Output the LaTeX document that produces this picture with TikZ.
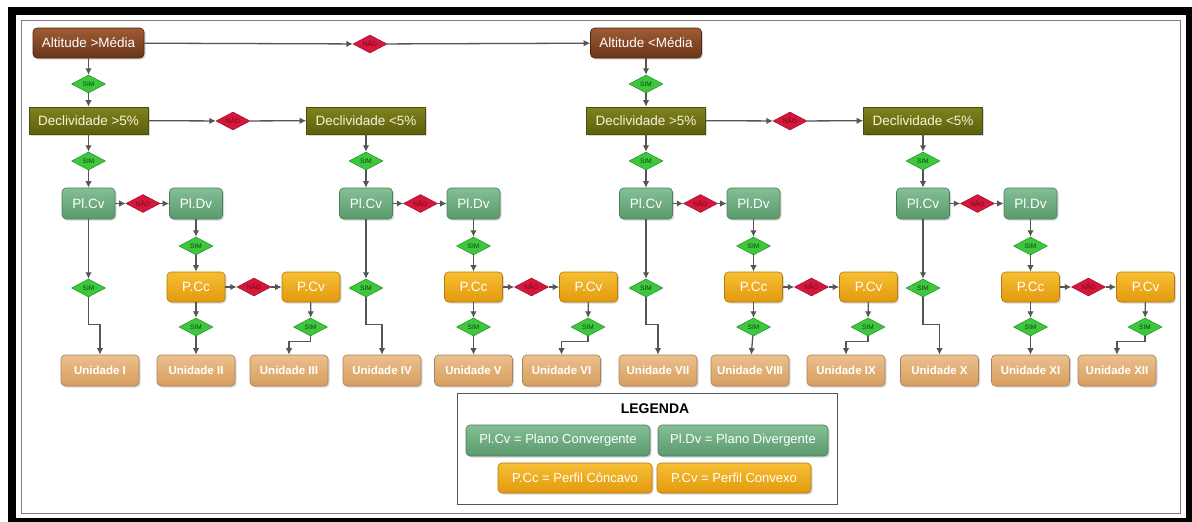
\documentclass[tikz,border=0pt]{standalone}
\usepackage{fontspec}
\setmainfont{Liberation Sans}
\usetikzlibrary{shapes.geometric,arrows.meta,shadows}
\definecolor{brownT}{HTML}{9E5C33}
\definecolor{brownB}{HTML}{6A3418}
\definecolor{brownD}{HTML}{4E2610}
\definecolor{oliveT}{HTML}{80821C}
\definecolor{oliveB}{HTML}{5C600E}
\definecolor{oliveD}{HTML}{4A4C0A}
\definecolor{greenT}{HTML}{84BE95}
\definecolor{greenB}{HTML}{5A9A6C}
\definecolor{greenD}{HTML}{4A7D5A}
\definecolor{orangeT}{HTML}{F7BE34}
\definecolor{orangeB}{HTML}{E29A0E}
\definecolor{orangeD}{HTML}{B37A0A}
\definecolor{tanT}{HTML}{EBC08C}
\definecolor{tanB}{HTML}{D69E5E}
\definecolor{tanD}{HTML}{A88060}
\definecolor{simF}{HTML}{3DC73D}
\definecolor{simD}{HTML}{239023}
\definecolor{simT}{HTML}{10400F}
\definecolor{naoF}{HTML}{D5173D}
\definecolor{naoD}{HTML}{9A0E2A}
\definecolor{naoT}{HTML}{6A0A18}
\definecolor{lineC}{HTML}{555555}
\definecolor{creamT}{HTML}{F5F5DC}
\tikzset{
  base/.style={draw, line width=0.6pt, inner sep=0pt, align=center,
    drop shadow={shadow xshift=1.5pt, shadow yshift=-1.5pt, opacity=0.3}},
  altbox/.style={base, rounded corners=4pt, top color=brownT, bottom color=brownB, draw=brownD,
    minimum width=111pt, minimum height=30pt, text=white, font=\fontsize{13.5}{15}\selectfont},
  decbox/.style={base, top color=oliveT, bottom color=oliveB, draw=oliveD,
    minimum width=119pt, minimum height=27pt, text=creamT, font=\fontsize{13.5}{15}\selectfont},
  plbox/.style={base, rounded corners=4pt, top color=greenT, bottom color=greenB, draw=greenD,
    minimum width=53pt, minimum height=31pt, text=white, font=\fontsize{13.5}{15}\selectfont},
  pfbox/.style={base, rounded corners=4pt, top color=orangeT, bottom color=orangeB, draw=orangeD,
    minimum width=58pt, minimum height=30pt, text=white, font=\fontsize{13.5}{15}\selectfont},
  unbox/.style={base, rounded corners=4pt, top color=tanT, bottom color=tanB, draw=tanD,
    minimum width=78pt, minimum height=31pt, text=white, font=\fontsize{11.5}{13}\selectfont\bfseries},
  diam/.style={shape=diamond, aspect=2, inner sep=0pt, minimum width=34pt, minimum height=18pt,
    line width=0.5pt, font=\fontsize{6.5}{6.5}\selectfont},
  sim/.style={diam, fill=simF, draw=simD, text=simT},
  nao/.style={diam, fill=naoF, draw=naoD, text=naoT},
  arr/.style={draw=lineC, line width=1.3pt, -{Latex[length=6.5pt,width=6.5pt]}},
  legtitle/.style={font=\fontsize{14}{16}\selectfont\bfseries, text=black},
}
\begin{document}
\begin{tikzpicture}[x=1pt,y=-1pt]
\useasboundingbox (0,0) rectangle (1192,522);
% frame
\fill[black] (8,7) rectangle (1192,522);
\fill[white] (16,15) rectangle (1186,518);
\draw[gray, line width=1pt] (21,20) rectangle (1180,513);

% top level
\node[altbox] (alt1) at (88.5,43) {Altitude >Média};
\node[altbox] (alt2) at (646,43) {Altitude <Média};
\node[nao] (ntop) at (370,44) {NÃO};
\node[sim] (s01) at (88.5,84) {SIM};
\node[sim] (s03) at (646,84) {SIM};
\node[decbox] (dec1) at (88.5,120.5) {Declividade >5\%};
\node[decbox] (dec2) at (366,120.5) {Declividade <5\%};
\node[decbox] (dec3) at (646,120.5) {Declividade >5\%};
\node[decbox] (dec4) at (923,120.5) {Declividade <5\%};
\node[nao] (nd12) at (233,121) {NÃO};
\node[nao] (nd34) at (790,121) {NÃO};

\draw[arr] (alt1) -- (ntop);
\draw[arr] (ntop) -- (alt2);
\draw[arr] (alt1) -- (s01);
\draw[arr] (s01) -- (dec1);
\draw[arr] (alt2) -- (s03);
\draw[arr] (s03) -- (dec3);
\draw[arr] (dec1) -- (nd12);
\draw[arr] (nd12) -- (dec2);
\draw[arr] (dec3) -- (nd34);
\draw[arr] (nd34) -- (dec4);

\foreach \g/\D/\ua/\ub/\uc/\ra/\rb/\rc in {
  1/88.5/100/196/289/I/II/III,
  2/366/382/473.5/561.5/IV/V/VI,
  3/646/658/750/846/VII/VIII/IX,
  4/923/939.5/1030.5/1117/X/XI/XII}{
  \node[sim] (sa\g) at (\D,161) {SIM};
  \node[plbox] (cv\g) at (\D,203.5) {Pl.Cv};
  \node[nao] (na\g) at ({\D+54.5},203.5) {NÃO};
  \node[plbox] (dv\g) at ({\D+107.5},203.5) {Pl.Dv};
  \node[sim] (sb\g) at ({\D+107.5},246) {SIM};
  \node[pfbox] (cc\g) at ({\D+107.5},287) {P.Cc};
  \node[nao] (nb\g) at ({\D+165.5},287) {NÃO};
  \node[pfbox] (pv\g) at ({\D+222.5},287) {P.Cv};
  \node[sim] (sc\g) at (\D,288) {SIM};
  \node[sim] (sd\g) at ({\D+107.5},327) {SIM};
  \node[sim] (se\g) at ({\D+222},327) {SIM};
  \node[unbox] (ua\g) at (\ua,370.5) {Unidade \ra};
  \node[unbox] (ub\g) at (\ub,370.5) {Unidade \rb};
  \node[unbox] (uc\g) at (\uc,370.5) {Unidade \rc};
  \draw[arr] (dec\g) -- (sa\g);
  \draw[arr] (sa\g) -- (cv\g);
  \draw[arr] (cv\g) -- (na\g);
  \draw[arr] (na\g) -- (dv\g);
  \draw[arr] (dv\g) -- (sb\g);
  \draw[arr] (sb\g) -- (cc\g);
  \draw[arr] (cc\g) -- (nb\g);
  \draw[arr] (nb\g) -- (pv\g);
  \draw[arr] (cv\g) -- (sc\g);
  \draw[arr] (sc\g.south) -- ++(0,27) -| (ua\g.north);
  \draw[arr] (cc\g) -- (sd\g);
  \draw[arr] (sd\g) -- (ub\g);
  \draw[arr] (pv\g) -- (se\g);
  \draw[arr] (se\g.south) -- ++(0,5) -| (uc\g.north);
}

% legend
\node[draw=lineC, line width=1pt, fill=white, minimum width=380pt, minimum height=111pt, inner sep=0pt] (leg) at (647,448.5) {};
\node[legtitle] (legt) at (655,409) {LEGENDA};
\node[plbox, minimum width=184pt, font=\fontsize{13}{15}\selectfont] (lcv) at (558,440.5) {Pl.Cv = Plano Convergente};
\node[plbox, minimum width=170pt, font=\fontsize{13}{15}\selectfont] (ldv) at (743,440.5) {Pl.Dv = Plano Divergente};
\node[pfbox, minimum width=154pt, font=\fontsize{13}{15}\selectfont] (lcc) at (575,478) {P.Cc = Perfil Côncavo};
\node[pfbox, minimum width=154pt, font=\fontsize{13}{15}\selectfont] (lpv) at (734,478) {P.Cv = Perfil Convexo};
\end{tikzpicture}
\end{document}
